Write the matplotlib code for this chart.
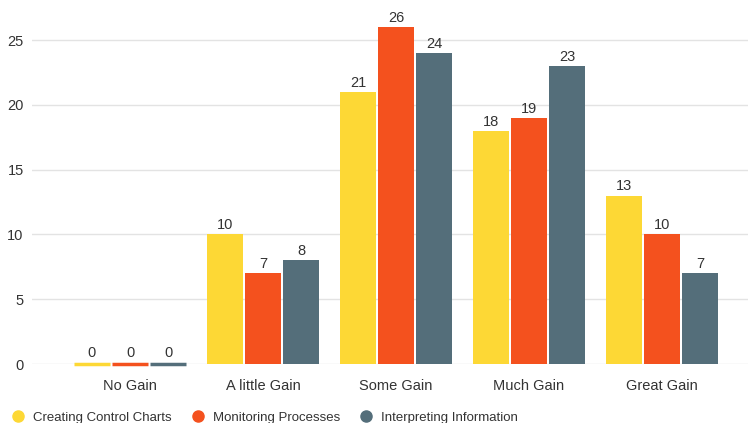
import numpy as np
import matplotlib.pyplot as plt
from matplotlib.lines import Line2D

plt.rcParams['font.family'] = ['Liberation Sans', 'DejaVu Sans']

categories = ["No Gain", "A little Gain", "Some Gain", "Much Gain", "Great Gain"]
series_names = ["Creating Control Charts", "Monitoring Processes", "Interpreting Information"]
control_charts = [0, 10, 21, 18, 13]
monitoring = [0, 7, 26, 19, 10]
interpreting = [0, 8, 24, 23, 7]
colors = ["#FDD835", "#F4511E", "#546E7A"]

text_color = "#333333"

fig = plt.figure(figsize=(7.48, 4.23), dpi=100)
ax = fig.add_axes([32 / 748, 59 / 423, 716 / 748, 364 / 423])

x = np.arange(len(categories))
width = 0.265
step = 0.286

for i, (vals, color) in enumerate(zip([control_charts, monitoring, interpreting], colors)):
    pos = x + (i - 1) * step
    vals = np.array(vals, dtype=float)
    # zero values still get a thin visible stub via the edge line
    lw = [2.5 if v == 0 else 0 for v in vals]
    bars = ax.bar(pos, vals, width=width, color=color, edgecolor=color, linewidth=lw, zorder=3)
    for b in bars:
        b.set_clip_on(False)
    for p, v in zip(pos, vals):
        ax.annotate(f"{v:g}", (p, v), xytext=(0, 1.5 if v > 0 else 3), textcoords="offset points",
                    ha="center", va="bottom", fontsize=10.5, color=text_color)

ax.set_xlim(-0.737, 4.647)
ax.set_ylim(0, 28.09)
ax.set_yticks([0, 5, 10, 15, 20, 25])
ax.set_xticks(x)
ax.set_xticklabels(categories)
ax.grid(axis="y", color="#e3e3e3", linewidth=1, zorder=0)
ax.set_axisbelow(True)
for s in ax.spines.values():
    s.set_visible(False)
ax.tick_params(axis="both", length=0, labelsize=10.5, colors=text_color)
ax.tick_params(axis="x", pad=11)
ax.tick_params(axis="y", pad=6)

handles = [Line2D([], [], marker="o", linestyle="", markersize=8, color=c) for c in colors]
fig.legend(handles, series_names, loc="lower left", bbox_to_anchor=(0.0, -0.02),
           ncol=3, frameon=False, fontsize=9.5, handletextpad=0.3, columnspacing=1.2,
           labelcolor=text_color, borderaxespad=0.2, handlelength=1.6)

fig.savefig("out.png", dpi=100)
